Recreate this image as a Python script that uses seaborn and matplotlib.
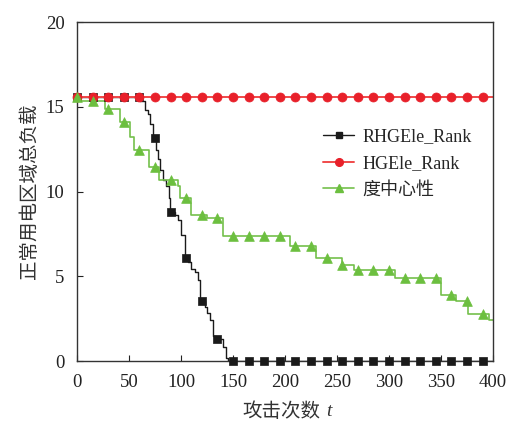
import matplotlib
matplotlib.use("Agg")
import matplotlib.pyplot as plt
import numpy as np
import pandas as pd
import seaborn as sns
from matplotlib.lines import Line2D

sns.set_style("ticks")
plt.rcParams["font.family"] = ["Liberation Serif", "Noto Sans CJK SC", "DejaVu Sans"]

# step curves: (attack count where the step happens, load after it)
RH_T = [0, 61, 65, 68.5, 70, 73, 76, 78, 80, 83, 85.5, 88, 89.5, 94, 97, 100,
        103.5, 107, 110, 113.5, 116.5, 118, 123, 125, 128, 131, 134, 140, 143.5, 145.5, 400]
RH_V = [15.6, 15.35, 14.8, 14.6, 14.0, 13.15, 12.45, 11.95, 11.3, 10.7, 10.3, 9.6, 8.8,
        8.6, 8.3, 7.45, 6.05, 5.85, 5.45, 5.25, 4.8, 3.55, 3.2, 2.85, 2.4, 1.45, 1.3,
        0.85, 0.2, 0.0, 0.0]
HG_T = [0, 400]
HG_V = [15.6, 15.6]
DEG_T = [0, 4, 27, 41, 51, 55, 69, 79, 97, 99, 110, 125, 140, 205, 230, 255, 266,
         306, 350, 364, 376, 396, 400]
DEG_V = [15.6, 15.35, 14.85, 14.1, 13.2, 12.45, 11.45, 10.7, 10.3, 9.6, 8.6, 8.45,
         7.4, 6.8, 6.1, 5.65, 5.4, 4.9, 3.9, 3.55, 2.8, 2.4, 2.4]
MARK_T = list(range(0, 400, 15))

SERIES = [
    ("RHGEle_Rank", RH_T, RH_V, "#1a1a1a", "#1a1a1a", "s", 1.0, 5.5),
    ("HGEle_Rank", HG_T, HG_V, "#f04a4a", "#e8202a", "o", 1.4, 6.5),
    ("度中心性", DEG_T, DEG_V, "#74c04c", "#6cbf3f", "^", 1.2, 7.0),
]


def step_at(ts, vs, x):
    idx = np.searchsorted(np.asarray(ts), np.asarray(x), side="right") - 1
    return np.asarray(vs)[idx]


fig = plt.figure(figsize=(5.08, 4.21), dpi=100)
ax = fig.add_axes([0.1516, 0.1425, 0.819, 0.805])

handles = []
for name, ts, vs, lc, mc, mk, lw, ms in SERIES:
    line_df = pd.DataFrame({"t": ts, "v": vs})
    sns.lineplot(data=line_df, x="t", y="v", ax=ax, color=lc, linewidth=lw,
                 drawstyle="steps-post", estimator=None, sort=False)
    mark_df = pd.DataFrame({"t": MARK_T, "v": step_at(ts, vs, MARK_T)})
    sns.scatterplot(data=mark_df, x="t", y="v", ax=ax, color=mc, marker=mk,
                    s=ms ** 2, edgecolor=mc, linewidth=0.5, zorder=3, clip_on=False)
    handles.append(Line2D([], [], color=lc, linewidth=lw, marker=mk, markersize=ms * 0.85,
                          markerfacecolor=mc, markeredgecolor=mc, label=name))

ax.set_xlim(0, 400)
ax.set_ylim(0, 20)
ax.set_xticks(range(0, 401, 50))
ax.set_yticks(range(0, 21, 5))
ax.tick_params(direction="in", length=4, width=0.8, labelsize=13.5, colors="#222222",
               pad=9, top=False, right=False)
for s in ax.spines.values():
    s.set_linewidth(1.0)
    s.set_color("#333333")
ax.set_xlabel("")
ax.text(0.492, -0.150, "攻击次数", transform=ax.transAxes, ha="center", va="center",
        fontsize=14, color="#333333")
ax.text(0.606, -0.150, "t", transform=ax.transAxes, ha="center", va="center",
        fontsize=14, fontstyle="italic", color="#333333")
ax.set_ylabel("正常用电区域总负载", fontsize=14, labelpad=5, color="#333333")
ax.legend(handles=handles, loc="upper left", bbox_to_anchor=(0.575, 0.708), frameon=False,
          fontsize=13, handlelength=1.7, handletextpad=0.45, labelspacing=0.53,
          borderaxespad=0)

fig.savefig("out.png", dpi=100)
